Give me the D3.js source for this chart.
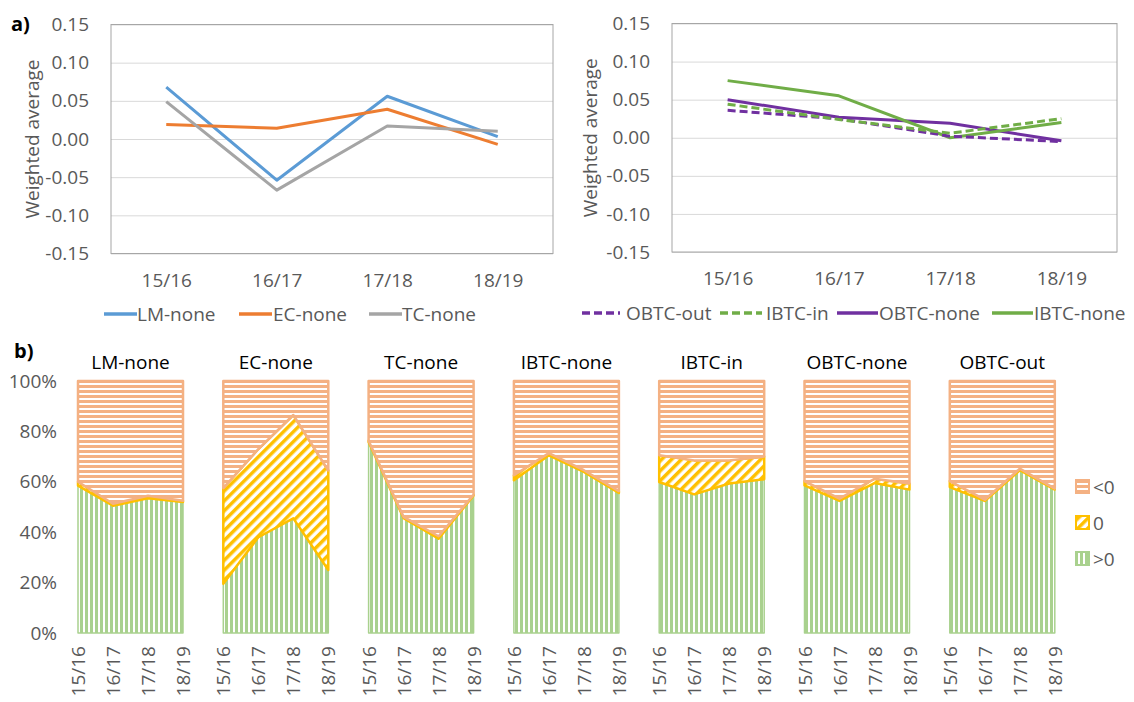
<!DOCTYPE html>
<html>
<head>
<meta charset="utf-8">
<script src="https://cdn.jsdelivr.net/npm/d3@7"></script>
<style>
  body { margin: 0; background: #fff; }
  svg { font-family: 'Open Sans', sans-serif; }
</style>
</head>
<body>
<div class="main"></div>
<script>
//// data
const years = ['15/16', '16/17', '17/18', '18/19'];
const yTicks = [-0.15, -0.10, -0.05, 0.00, 0.05, 0.10, 0.15];
const pctTicks = [0, 20, 40, 60, 80, 100];

// panel a) left
const lmNone = [0.068, -0.054, 0.056, 0.003];
const ecNone = [0.019, 0.014, 0.039, -0.007];
const tcNone = [0.049, -0.067, 0.017, 0.010];
// panel a) right
const obtcOut = [0.036, 0.025, 0.002, -0.005];
const ibtcIn = [0.044, 0.024, 0.006, 0.025];
const obtcNone = [0.050, 0.027, 0.019, -0.004];
const ibtcNone = [0.075, 0.055, 0.000, 0.020];

// panel b) shares in percent
const groups = ['LM-none', 'EC-none', 'TC-none', 'IBTC-none', 'IBTC-in', 'OBTC-none', 'OBTC-out'];
const posShare = [
  [58.5, 50.5, 53.5, 52.0],
  [19.5, 38.0, 45.5, 25.0],
  [75.8, 45.6, 37.4, 54.6],
  [60.6, 70.5, 63.9, 55.6],
  [59.9, 55.0, 59.3, 61.0],
  [58.6, 52.4, 59.5, 56.9],
  [57.9, 52.4, 64.6, 56.9]
];
const zeroShare = [
  [1.5, 0.8, 1.0, 0.5],
  [38.0, 35.0, 41.0, 39.5],
  [0.5, 0.5, 1.0, 0.3],
  [2.0, 0.9, 0.7, 0.7],
  [10.6, 13.5, 9.2, 9.0],
  [1.7, 0.9, 1.7, 2.4],
  [2.4, 0.5, 0.6, 0.4]
];
const shareLabels = ['<0', '0', '>0'];

//// layout
const width = 1134;
const height = 702;
const textGrey = '#595959';
const font = "'Open Sans', sans-serif";
const fs = 19;

const svg = d3.select('.main').append('svg')
  .attr('width', width)
  .attr('height', height);

const defs = svg.append('defs');

// stripe fills
const hp = defs.append('pattern').attr('id', 'negFill')
  .attr('patternUnits', 'userSpaceOnUse').attr('width', 6).attr('height', 5);
hp.append('rect').attr('width', 6).attr('height', 5).attr('fill', '#fff');
hp.append('rect').attr('width', 6).attr('height', 3).attr('fill', '#F4B183');

const vp = defs.append('pattern').attr('id', 'posFill')
  .attr('patternUnits', 'userSpaceOnUse').attr('width', 5).attr('height', 6);
vp.append('rect').attr('width', 5).attr('height', 6).attr('fill', '#fff');
vp.append('rect').attr('width', 3).attr('height', 6).attr('fill', '#A9D18E');

const dp = defs.append('pattern').attr('id', 'zeroFill')
  .attr('patternUnits', 'userSpaceOnUse').attr('width', 7).attr('height', 7)
  .attr('patternTransform', 'rotate(45)');
dp.append('rect').attr('width', 7).attr('height', 7).attr('fill', '#fff');
dp.append('rect').attr('width', 3.5).attr('height', 7).attr('fill', '#FFC000');

function styleAxis(g) {
  g.attr('font-family', font).attr('font-size', fs);
  g.select('.domain').remove();
  g.selectAll('text')
    .attr('fill', textGrey)
    .style('font-family', font)
    .style('font-size', fs + 'px');
}

//// line charts
function lineChart(opts) {
  const { left, right, top, bottom, series, titleX, legend } = opts;

  const x = d3.scalePoint().domain(years).range([left, right]).padding(0.5);
  const y = d3.scaleLinear().domain([-0.15, 0.15]).range([bottom, top]);

  const ga = svg.append('g')
    .attr('transform', `translate(${left}, 0)`)
    .call(d3.axisLeft(y)
      .tickValues(yTicks)
      .tickSize(-(right - left))
      .tickPadding(22)
      .tickFormat(d => d.toFixed(2)));
  styleAxis(ga);
  ga.selectAll('line').attr('stroke', '#D9D9D9');

  svg.append('rect')
    .attr('x', left).attr('y', top)
    .attr('width', right - left).attr('height', bottom - top)
    .attr('fill', 'none').attr('stroke', '#A6A6A6');

  const xa = svg.append('g')
    .attr('transform', `translate(0, ${bottom})`)
    .call(d3.axisBottom(x).tickSize(0).tickPadding(20));
  styleAxis(xa);

  svg.append('text')
    .attr('transform', `translate(${titleX}, ${(top + bottom) / 2}) rotate(-90)`)
    .attr('text-anchor', 'middle')
    .attr('dy', '0.35em')
    .attr('fill', textGrey)
    .style('font-size', fs + 'px')
    .text('Weighted average');

  const line = d3.line()
    .x((d, i) => x(years[i]))
    .y(d => y(d));

  series.forEach(s => {
    svg.append('path')
      .datum(s.values)
      .attr('d', line)
      .attr('fill', 'none')
      .attr('stroke', s.color)
      .attr('stroke-width', 3)
      .attr('stroke-dasharray', s.dash || null)
      .attr('stroke-linejoin', 'round');
  });

  legend.forEach(l => {
    const s = series.find(d => d.name === l.name);
    svg.append('line')
      .attr('x1', l.x1).attr('x2', l.x2)
      .attr('y1', l.y).attr('y2', l.y)
      .attr('stroke', s.color).attr('stroke-width', 3.5)
      .attr('stroke-dasharray', s.dash || null);
    svg.append('text')
      .attr('x', l.tx).attr('y', l.y)
      .attr('dy', '0.35em')
      .attr('fill', textGrey)
      .style('font-size', fs + 'px')
      .text(l.name);
  });
}

lineChart({
  left: 111, right: 553, top: 24.5, bottom: 253.5, titleX: 32,
  series: [
    { name: 'LM-none', values: lmNone, color: '#5B9BD5' },
    { name: 'EC-none', values: ecNone, color: '#ED7D31' },
    { name: 'TC-none', values: tcNone, color: '#A5A5A5' }
  ],
  legend: [
    { name: 'LM-none', x1: 104, x2: 137, tx: 137, y: 314 },
    { name: 'EC-none', x1: 239, x2: 272, tx: 273, y: 314 },
    { name: 'TC-none', x1: 369, x2: 402, tx: 402, y: 314 }
  ]
});

lineChart({
  left: 672, right: 1117, top: 23.5, bottom: 252, titleX: 590,
  series: [
    { name: 'OBTC-none', values: obtcNone, color: '#7030A0' },
    { name: 'IBTC-none', values: ibtcNone, color: '#70AD47' },
    { name: 'OBTC-out', values: obtcOut, color: '#7030A0', dash: '8,4' },
    { name: 'IBTC-in', values: ibtcIn, color: '#70AD47', dash: '8,4' }
  ],
  legend: [
    { name: 'OBTC-out', x1: 582, x2: 620, tx: 626, y: 313 },
    { name: 'IBTC-in', x1: 720, x2: 762, tx: 766, y: 313 },
    { name: 'OBTC-none', x1: 837, x2: 878, tx: 879, y: 313 },
    { name: 'IBTC-none', x1: 992, x2: 1033, tx: 1034, y: 313 }
  ]
});

svg.append('text')
  .attr('x', 11).attr('y', 31)
  .style('font-size', '20px').style('font-weight', 'bold')
  .text('a)');

//// stacked share panels
const yPct = d3.scaleLinear().domain([0, 100]).range([633, 381]);

const ya = svg.append('g')
  .attr('transform', 'translate(57, 0)')
  .call(d3.axisLeft(yPct).tickValues(pctTicks).tickSize(0).tickPadding(0).tickFormat(d => d + '%'));
styleAxis(ya);

svg.append('text')
  .attr('x', 14).attr('y', 358)
  .style('font-size', '20px').style('font-weight', 'bold')
  .text('b)');

const layers = [
  { key: 'pos', fill: 'url(#posFill)', stroke: '#A9D18E', sw: 1.5 },
  { key: 'zero', fill: 'url(#zeroFill)', stroke: '#FFC000', sw: 2.5 },
  { key: 'neg', fill: 'url(#negFill)', stroke: '#F4B183', sw: 2.5 }
];

const stack = d3.stack().keys(layers.map(l => l.key));

groups.forEach((name, gi) => {
  const x0 = 78 + gi * 145.3;
  const x = d3.scalePoint().domain(years).range([x0, x0 + 105]);

  const rows = years.map((yr, i) => ({
    year: yr,
    pos: posShare[gi][i],
    zero: zeroShare[gi][i],
    neg: 100 - posShare[gi][i] - zeroShare[gi][i]
  }));

  const area = d3.area()
    .x(d => x(d.data.year))
    .y0(d => yPct(d[0]))
    .y1(d => yPct(d[1]));

  stack(rows).forEach((s, li) => {
    svg.append('path')
      .datum(s)
      .attr('d', area)
      .attr('fill', layers[li].fill)
      .attr('stroke', layers[li].stroke)
      .attr('stroke-width', layers[li].sw)
      .attr('stroke-linejoin', 'round');
  });

  svg.append('text')
    .attr('x', x0 + 52.5).attr('y', 369)
    .attr('text-anchor', 'middle')
    .attr('fill', '#000')
    .style('font-size', '19px')
    .text(name);

  const xa = svg.append('g')
    .attr('transform', 'translate(0, 633)')
    .call(d3.axisBottom(x).tickSize(0));
  styleAxis(xa);
  xa.selectAll('text')
    .attr('transform', 'rotate(-90)')
    .attr('text-anchor', 'end')
    .attr('x', -13)
    .attr('y', 0)
    .attr('dy', '0.35em');
});

// share legend
const legendFills = ['url(#negFill)', 'url(#zeroFill)', 'url(#posFill)'];
const legendStrokes = ['#F4B183', '#FFC000', '#A9D18E'];
shareLabels.forEach((lab, i) => {
  const cy = 487 + i * 36;
  svg.append('rect')
    .attr('x', 1076).attr('y', cy - 7)
    .attr('width', 13).attr('height', 13)
    .attr('fill', legendFills[i])
    .attr('stroke', legendStrokes[i])
    .attr('stroke-width', 2);
  svg.append('text')
    .attr('x', 1093).attr('y', cy)
    .attr('dy', '0.35em')
    .attr('fill', textGrey)
    .style('font-size', fs + 'px')
    .text(lab);
});
</script>
</body>
</html>
